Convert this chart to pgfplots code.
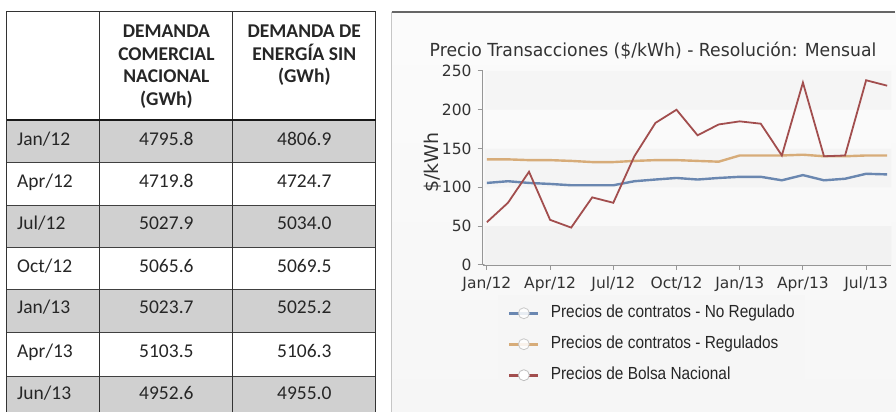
\documentclass[border=0pt]{standalone}
\usepackage{fontspec}
\usepackage{graphicx}
\usepackage{pgfplots}
\pgfplotsset{compat=1.18}
\setmainfont{Carlito}
\newfontfamily\tblfont{Carlito}
\newfontfamily\vfont{DejaVu Sans}
\newfontfamily\legfont{Liberation Sans}
\definecolor{cblue}{RGB}{82,116,165}
\definecolor{corange}{RGB}{210,160,100}
\definecolor{cred}{RGB}{162,78,78}
\definecolor{rowgrey}{RGB}{208,208,208}
\definecolor{tickgrey}{RGB}{150,150,150}
\newcommand{\legtxt}[1]{\scalebox{0.88}[1]{#1}}

\pgfplotstableread{
m  blue   orange  red
0  105.6  136     55
1  107.8  136     80
2  105.6  135     120
3  104.3  135     58
4  102.6  134     48
5  102.6  132.5   87
6  102.6  132.5   80
7  107.8  134     140
8  110    135     183
9  112    135     200
10 110    134     167
11 112    133     181
12 113.5  141     185
13 113.5  141     182
14 109    141     141
15 115.7  142     235
16 109    140     140
17 111    140     141
18 117.4  141     238
19 116.6  141     231
}\prices

\begin{document}
\begin{tikzpicture}
\fill[white] (0,0) rectangle (896pt,412pt);
\begin{scope}[yshift=412pt,x=1pt,y=-1pt]
  % ---------- table ----------
  \fill[rowgrey] (7,120) rectangle (376,163);
  \fill[rowgrey] (7,206) rectangle (376,248);
  \fill[rowgrey] (7,290) rectangle (376,333);
  \fill[rowgrey] (7,377) rectangle (376,412);
  \foreach \y in {163,206,248,290,333,377}
    \draw[line width=0.9pt,black!75] (7,\y) -- (376,\y);
  \draw[line width=1pt,black!80] (100,12) -- (100,412) (233,12) -- (233,412);
  \draw[line width=1pt,black!80] (7,412) -- (7,12) -- (376,12) -- (376,412);
  \draw[line width=2pt,black!90] (7,120) -- (376,120);
  \begin{scope}[every node/.style={inner sep=0pt,anchor=base,font=\tblfont\bfseries\fontsize{19.5}{22}\selectfont,text=black!85}]
    \node at (166.5,38) {DEMANDA};
    \node at (166.5,60.5) {COMERCIAL};
    \node at (166.5,83) {NACIONAL};
    \node at (166.5,105.5) {(GWh)};
    \node at (304.5,38) {DEMANDA DE};
    \node at (304.5,60.5) {ENERGÍA SIN};
    \node at (304.5,83) {(GWh)};
  \end{scope}
  \begin{scope}[every node/.style={inner sep=0pt,font=\tblfont\fontsize{19.5}{22}\selectfont,text=black!85}]
    \foreach \b/\d/\va/\vb in {146/Jan\slash 12/4795.8/4806.9, 188/Apr\slash 12/4719.8/4724.7,
        230/Jul\slash 12/5027.9/5034.0, 273/Oct\slash 12/5065.6/5069.5,
        314/Jan\slash 13/5023.7/5025.2, 358/Apr\slash 13/5103.5/5106.3,
        400/Jun\slash 13/4952.6/4955.0}{
      \node[anchor=base west] at (17,\b) {\d};
      \node[anchor=base] at (166.5,\b) {\va};
      \node[anchor=base] at (304.5,\b) {\vb};
    }
  \end{scope}
  % ---------- chart panel ----------
  \shade[top color=white!97!gray, bottom color=white!93!gray] (392,12) rectangle (896,412);
  \draw[gray!45,line width=1pt] (392,412) -- (392,12);
  \draw[gray!80!black,line width=1.2pt] (392,12) -- (896,12);
  \node[anchor=base,inner sep=0pt,font=\vfont\fontsize{18}{20}\selectfont,text=black!80]
    at (653.5,57) {\resizebox{447pt}{\height}{Precio Transacciones (\$/kWh) - Resolución: Mensual}};
\end{scope}

\begin{axis}[
  at={(483pt,147pt)}, anchor=south west,
  scale only axis, width=409pt, height=194pt,
  xmin=-0.2, xmax=19.2, ymin=0, ymax=250,
  axis lines*=left,
  axis line style={tickgrey,line width=1.6pt},
  tick style={tickgrey,line width=1pt},
  tick align=outside, major tick length=5pt,
  xtick={0,3,6,9,12,15,18},
  xticklabels={Jan/12,Apr/12,Jul/12,Oct/12,Jan/13,Apr/13,Jul/13},
  ytick={0,50,100,150,200,250},
  /pgf/number format/assume math mode=true,
  ticklabel style={font=\vfont\fontsize{15.5}{17}\selectfont,text=black!80},
  xticklabel style={anchor=base,inner sep=0pt,yshift=-19pt},
  yticklabel style={anchor=east,inner sep=0pt,xshift=-6pt},
  ylabel={\$/kWh},
  ylabel style={font=\vfont\fontsize{19}{20}\selectfont,text=black!80,at={(axis description cs:-0.122,0.526)},anchor=center},
  legend style={at={(0.0367,-0.1546)},anchor=north west,draw=none,fill=white!93!gray,
    font=\legfont\fontsize{17.5}{19}\selectfont,text=black!85,
    inner xsep=10pt,inner ysep=10pt,row sep=14.5pt,
    nodes={inner sep=0pt,text height=12.5pt,text depth=4pt},
    /tikz/every odd column/.append style={column sep=11pt}},
  legend cell align=left,
  legend image code/.code={
    \draw[#1,line width=3pt] (0pt,0pt) -- (29pt,0pt);
    \draw[gray!50,fill=white,line width=0.8pt] (14.5pt,0pt) circle (5.5pt);
  },
]
\addplot[draw=none,fill=white!90!gray,forget plot] coordinates {(-0.1,0) (19.2,0) (19.2,50) (-0.1,50)} \closedcycle;
\addplot[draw=none,fill=white!95!gray,forget plot] coordinates {(-0.1,50) (19.2,50) (19.2,100) (-0.1,100)} \closedcycle;
\addplot[draw=none,fill=white!91!gray,forget plot] coordinates {(-0.1,100) (19.2,100) (19.2,150) (-0.1,150)} \closedcycle;
\addplot[draw=none,fill=white!96!gray,forget plot] coordinates {(-0.1,150) (19.2,150) (19.2,200) (-0.1,200)} \closedcycle;
\addplot[draw=none,fill=white!92!gray,forget plot] coordinates {(-0.1,200) (19.2,200) (19.2,250) (-0.1,250)} \closedcycle;
\addplot[cblue,line width=2.4pt,opacity=0.85] table[x=m,y=blue] {\prices};
\addlegendentry{\legtxt{Precios de contratos - No Regulado}}
\addplot[corange,line width=2.4pt,opacity=0.85] table[x=m,y=orange] {\prices};
\addlegendentry{\legtxt{Precios de contratos - Regulados}}
\addplot[cred,line width=1.8pt] table[x=m,y=red] {\prices};
\addlegendentry{\legtxt{Precios de Bolsa Nacional}}
\end{axis}
\useasboundingbox (0,0) rectangle (896pt,412pt);
\end{tikzpicture}
\end{document}
